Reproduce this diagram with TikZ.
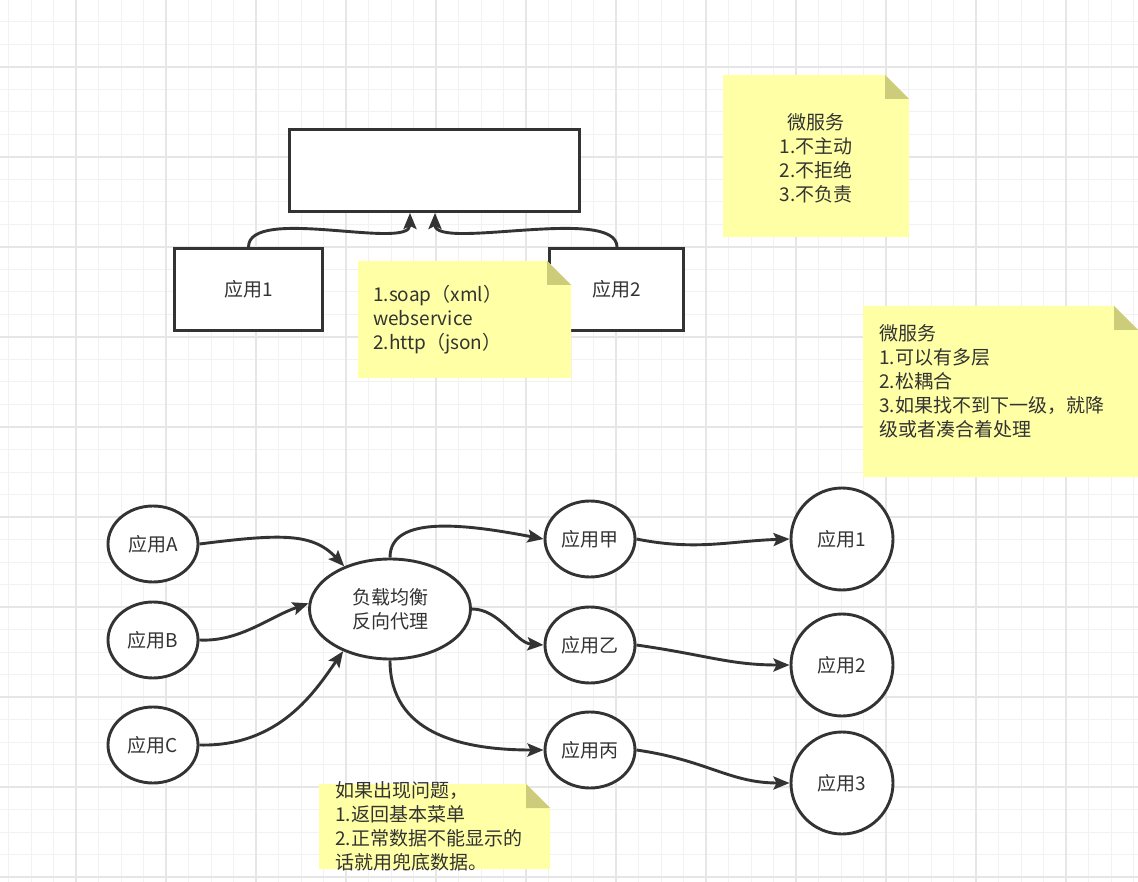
\documentclass[tikz,border=0pt]{standalone}
\usepackage{fontspec}
\setmainfont{Noto Sans CJK SC}
\usetikzlibrary{arrows.meta,shapes.geometric}

\definecolor{inkgray}{HTML}{333333}
\definecolor{gridminor}{HTML}{F2F2F2}
\definecolor{gridmajor}{HTML}{E6E6E6}
\definecolor{notefill}{RGB}{255,255,166}
\definecolor{foldfill}{RGB}{204,204,122}

% sticky note: x1 y1 x2 y2 (folded top right corner)
\newcommand{\stickynote}[4]{%
  \fill[notefill] (#1,#2) -- (#3-24,#2) -- (#3,#2+24) -- (#3,#4) -- (#1,#4) -- cycle;
  \fill[foldfill] (#3-24,#2) -- (#3-24,#2+24) -- (#3,#2+24) -- cycle;}

\begin{document}
\begin{tikzpicture}[x=1pt,y=-1pt,
    txt/.style={font=\fontsize{19}{24}\selectfont, text=inkgray},
    box/.style={txt, draw=inkgray, line width=2.9pt, fill=white, inner sep=0pt},
    app/.style={box, ellipse, minimum width=90pt, minimum height=76pt},
    server/.style={box, circle, minimum size=102pt},
    notetext/.style={txt, inner sep=0pt, align=left},
    flow/.style={draw=inkgray, line width=2.9pt, -{Stealth[length=16pt,width=13pt,inset=3pt]}}]

    % Background and grid
    \useasboundingbox (0,0) rectangle (1138,882);
    \fill[white] (0,0) rectangle (1138,882);
    \foreach \k in {0,...,50}
        \draw[gridminor, line width=1pt] (8.5+22.5*\k,0) -- ++(0,882);
    \foreach \k in {0,...,39}
        \draw[gridminor, line width=1pt] (0,-0.5+22.5*\k) -- ++(1138,0);
    \foreach \gx in {76,166,...,1066}
        \draw[gridmajor, line width=1.2pt] (\gx,0) -- ++(0,882);
    \foreach \gy in {67,157,...,877}
        \draw[gridmajor, line width=1.2pt] (0,\gy) -- ++(1138,0);

    % Top part
    \node[box, rectangle, minimum width=290pt, minimum height=82pt] (hub) at (434.5,170.5) {};
    \node[box, rectangle, minimum width=148pt, minimum height=82pt] (app1) at (248.5,289.5) {应用1};
    \node[box, rectangle, minimum width=134pt, minimum height=82pt] (app2) at (616.5,289.5) {应用2};
    \coordinate (hubl) at ([xshift=-24.5pt]hub.south);
    \coordinate (hubr) at ([xshift=0.5pt]hub.south);
    \draw[flow] (app1.north) .. controls +(0,-42) and +(0,38) .. (hubl);
    \draw[flow] ([xshift=0.5pt]app2.north) .. controls +(0,-42) and +(0,38) .. (hubr);

    % Notes
    \stickynote{358}{261}{571}{378}
    \node[notetext, anchor=west] (protonote) at (373,320) {1.soap（xml）\\webservice\\2.http（json）};
    \stickynote{723}{75}{909}{237}
    \node[notetext, align=center] (msnote) at (816,158) {微服务\\1.不主动\\2.不拒绝\\3.不负责};
    \stickynote{863}{306}{1138}{477}
    \node[notetext, anchor=west] (layernote) at (879,381) {微服务\\1.可以有多层\\2.松耦合\\3.如果找不到下一级，就降\\级或者凑合着处理};

    % Bottom part
    \node[app] (appA) at (153,544) {应用A};
    \node[app] (appB) at (153,640) {应用B};
    \node[app] (appC) at (153,745) {应用C};
    \node[box, ellipse, minimum width=161pt, minimum height=100pt, align=center] (lb) at (390,609) {负载均衡\\反向代理};
    \node[app] (jia) at (590,539) {应用甲};
    \node[app] (yi) at (590,645) {应用乙};
    \node[app] (bing) at (590,750) {应用丙};
    \node[server] (srv1) at (842,539) {应用1};
    \node[server] (srv2) at (842,665) {应用2};
    \node[server] (srv3) at (842,783) {应用3};

    \draw[flow] (appA.east) .. controls +(80,-10) and +(-32,-34) .. (lb.137);
    \draw[flow] (appB.east) .. controls +(40,2) and +(-40,14) .. (lb.176);
    \draw[flow] (appC.east) .. controls +(80,2) and +(-28,40) .. (lb.222);
    \draw[flow] (lb.north) .. controls +(0,-44) and +(-74,-14) .. (jia.west);
    \draw[flow] (lb.east) .. controls +(28,0) and +(-28,-2) .. (yi.west);
    \draw[flow] (lb.south) .. controls +(0,72) and +(-84,0) .. (bing.west);
    \draw[flow] (jia.east) .. controls +(60,12) and +(-60,2) .. (srv1.west);
    \draw[flow] (yi.east) .. controls +(70,10) and +(-60,0) .. (srv2.west);
    \draw[flow] (bing.east) .. controls +(70,10) and +(-60,0) .. (srv3.west);

    \stickynote{319}{784}{550}{869}
    \node[notetext, anchor=west] (fallnote) at (335,826) {如果出现问题，\\1.返回基本菜单\\2.正常数据不能显示的\\话就用兜底数据。};
\end{tikzpicture}
\end{document}
